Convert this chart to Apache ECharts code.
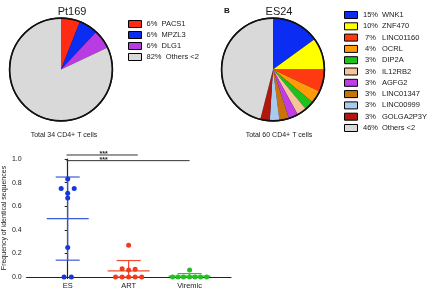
<!DOCTYPE html>
<html style="height: 100%">
  <head>
    <meta charset="UTF-8" />
    <title>Clonal expansion</title>
    <script src="https://cdn.jsdelivr.net/npm/echarts@6/dist/echarts.min.js"></script>
  </head>
  <body style="height: 100%; margin: 0; background: #fff">
    <div id="main" style="width: 428px; height: 295px"></div>
    <script>
      // pie A: Pt169
      var pie1Names = ['PACS1', 'MPZL3', 'DLG1', 'Others <2'];
      var pie1Pct = [6, 6, 6, 82];
      var pie1Colors = ['#ff2b12', '#0b2cf2', '#b83ce2', '#d9d9d9'];

      // pie B: ES24
      var pie2Names = ['WNK1', 'ZNF470', 'LINC01160', 'OCRL', 'DIP2A', 'IL12RB2',
        'AGFG2', 'LINC01347', 'LINC00999', 'GOLGA2P3Y', 'Others <2'];
      var pie2Pct = [15, 10, 7, 4, 3, 3, 3, 3, 3, 3, 46];
      var pie2Colors = ['#0b2cf2', '#ffff00', '#ff3a12', '#ff9a0a', '#1fc21a', '#f6c39a',
        '#c03ee6', '#cc720c', '#a9cbf0', '#b0180e', '#d9d9d9'];

      // scatter: frequency of identical sequences
      var groups = ['ES', 'ART', 'Viremic'];
      var esVals = [0.83, 0.75, 0.75, 0.71, 0.67, 0.25, 0, 0];
      var esJitter = [0, -0.107, 0.107, 0, 0, 0, -0.06, 0.06];
      var artVals = [0.27, 0.07, 0.06, 0.065, 0, 0, 0, 0, 0];
      var artJitter = [0, -0.107, 0, 0.107, -0.215, -0.107, 0, 0.107, 0.215];
      var virVals = [0.06, 0, 0, 0, 0, 0, 0, 0];
      var virJitter = [0, -0.28, -0.19, -0.1, 0, 0.09, 0.18, 0.28];
      var groupColors = ['#1838dc', '#f23a1c', '#22c020'];
      var barColors = ['#3a5ad6', '#f04a2a', '#30c030'];

      // significance bars: [fromX, toX, y, label]
      var sigBars = [
        [-0.02, 1.15, 1.034, '***'],
        [-0.02, 2.0, 0.986, '***']
      ];

      var font = 'Liberation Sans, Arial, sans-serif';
      var txt = '#1a1a1a';
      var pieR = 51;
      var pieA = [61, 69.5];
      var pieB = [273, 69.5];

      function pts(vals, jit, g) {
        return vals.map(function (v, i) { return [g + jit[i], v]; });
      }
      function stats(vals, g) {
        var n = vals.length;
        var m = vals.reduce(function (a, b) { return a + b; }, 0) / n;
        var ss = vals.reduce(function (a, b) { return a + (b - m) * (b - m); }, 0);
        var sd = Math.sqrt(ss / (n - 1));
        return [g, m, Math.max(0, m - sd), m + sd];
      }
      var errData = [stats(esVals, 0), stats(artVals, 1), stats(virVals, 2)];

      function pieData(names, pct, colors) {
        return names.map(function (n, i) {
          return { name: n, value: pct[i], itemStyle: { color: colors[i] } };
        });
      }
      // black outline round a pie
      function ring(c) {
        return {
          type: 'circle', z: 100, silent: true,
          shape: { cx: c[0], cy: c[1], r: pieR + 0.3 },
          style: { fill: 'none', stroke: '#111', lineWidth: 1.6 }
        };
      }
      // dark disc just larger than the pie, sitting underneath it
      function backDisc(c) {
        return {
          type: 'pie', center: c, radius: pieR + 1.2, z: 1, silent: true,
          label: { show: false }, labelLine: { show: false },
          data: [{ value: 1, itemStyle: { color: '#111' } }]
        };
      }

      var chart = echarts.init(document.getElementById('main'));

      var option = {
        animation: false,
        backgroundColor: '#fff',
        textStyle: { fontFamily: font },
        graphic: [ring(pieA), ring(pieB)],
        title: [
          { text: 'Pt169', left: 67, top: 1, textAlign: 'center',
            textStyle: { fontSize: 11, fontWeight: 'normal', color: txt, fontFamily: font } },
          { text: 'ES24', left: 274, top: 1, textAlign: 'center',
            textStyle: { fontSize: 11, fontWeight: 'normal', color: txt, fontFamily: font } },
          { text: 'B', left: 219, top: 2,
            textStyle: { fontSize: 8, fontWeight: 'bold', color: '#111', fontFamily: font } },
          { text: 'Total 34 CD4+ T cells', left: 59, top: 127, textAlign: 'center',
            textStyle: { fontSize: 7, fontWeight: 'normal', color: txt, fontFamily: font } },
          { text: 'Total 60 CD4+ T cells', left: 274, top: 127, textAlign: 'center',
            textStyle: { fontSize: 7, fontWeight: 'normal', color: txt, fontFamily: font } }
        ],
        legend: [
          {
            data: pie1Names, orient: 'vertical', left: 123, top: 15,
            icon: 'rect', itemWidth: 13, itemHeight: 7, itemGap: 3,
            selectedMode: false,
            itemStyle: { borderColor: '#000', borderWidth: 1 },
            textStyle: { fontSize: 7.5, color: txt, fontFamily: font, lineHeight: 7 },
            formatter: function (name) {
              return pie1Pct[pie1Names.indexOf(name)] + '%  ' + name;
            }
          },
          {
            data: pie2Names, orient: 'vertical', left: 339, top: 6,
            icon: 'rect', itemWidth: 13, itemHeight: 7, itemGap: 3.3,
            selectedMode: false,
            itemStyle: { borderColor: '#000', borderWidth: 1 },
            textStyle: {
              fontSize: 7.5, color: txt, fontFamily: font, lineHeight: 7,
              rich: {
                p: { width: 16, align: 'right', fontSize: 7.5, fontFamily: font, color: txt },
                n: { padding: [0, 0, 0, 3.5], fontSize: 7.5, fontFamily: font, color: txt }
              }
            },
            formatter: function (name) {
              return '{p|' + pie2Pct[pie2Names.indexOf(name)] + '%}{n|' + name + '}';
            }
          }
        ],
        grid: { left: 22, right: 197, top: 159, bottom: 18 },
        xAxis: {
          type: 'value', min: -0.674, max: 2.68,
          splitLine: { show: false },
          axisLine: { lineStyle: { color: '#222', width: 1.2 } },
          axisTick: { customValues: [0, 1, 2], length: 2, lineStyle: { color: '#222' } },
          axisLabel: {
            customValues: [0, 1, 2], margin: 5, fontSize: 7.5, color: txt, fontFamily: font,
            formatter: function (v) { return groups[Math.round(v)]; }
          }
        },
        yAxis: {
          type: 'value', min: 0, max: 1, interval: 0.2,
          name: 'Frequency of identical sequences', nameLocation: 'middle', nameGap: 15,
          nameTextStyle: { fontSize: 7, color: txt, fontFamily: font },
          splitLine: { show: false },
          axisLine: { show: true, lineStyle: { color: '#222', width: 1.2 } },
          axisTick: { show: true, length: 3, lineStyle: { color: '#222' } },
          axisLabel: {
            margin: 5, fontSize: 7, color: txt, fontFamily: font,
            formatter: function (v) { return v.toFixed(1); }
          }
        },
        series: [
          backDisc(pieA),
          backDisc(pieB),
          {
            type: 'pie', name: 'Pt169', center: pieA, radius: pieR, startAngle: 90,
            label: { show: false }, labelLine: { show: false }, silent: true,
            data: pieData(pie1Names, pie1Pct, pie1Colors)
          },
          {
            type: 'pie', name: 'ES24', center: pieB, radius: pieR, startAngle: 90,
            label: { show: false }, labelLine: { show: false }, silent: true,
            data: pieData(pie2Names, pie2Pct, pie2Colors)
          },
          {
            type: 'custom', silent: true, z: 2,
            data: errData,
            renderItem: function (params, api) {
              var g = api.value(0);
              var mid = api.coord([g, api.value(1)]);
              var lo = api.coord([g, api.value(2)]);
              var hi = api.coord([g, api.value(3)]);
              var c = barColors[g];
              var st = { stroke: c, lineWidth: 1.2 };
              return {
                type: 'group',
                children: [
                  { type: 'line', shape: { x1: mid[0], y1: lo[1], x2: mid[0], y2: hi[1] }, style: st },
                  { type: 'line', shape: { x1: mid[0] - 21, y1: mid[1], x2: mid[0] + 21, y2: mid[1] }, style: st },
                  { type: 'line', shape: { x1: mid[0] - 12, y1: hi[1], x2: mid[0] + 12, y2: hi[1] }, style: st },
                  { type: 'line', shape: { x1: mid[0] - 12, y1: lo[1], x2: mid[0] + 12, y2: lo[1] }, style: st }
                ]
              };
            }
          },
          {
            type: 'scatter', symbolSize: 5, z: 4, silent: true,
            itemStyle: { color: groupColors[0], opacity: 1 },
            data: pts(esVals, esJitter, 0)
          },
          {
            type: 'scatter', symbolSize: 5, z: 4, silent: true,
            itemStyle: { color: groupColors[1], opacity: 1 },
            data: pts(artVals, artJitter, 1)
          },
          {
            type: 'scatter', symbolSize: 5, z: 4, silent: true,
            itemStyle: { color: groupColors[2], opacity: 1 },
            data: pts(virVals, virJitter, 2)
          },
          {
            type: 'custom', silent: true, clip: false, z: 5,
            data: sigBars,
            renderItem: function (params, api) {
              var a = api.coord([api.value(0), api.value(2)]);
              var b = api.coord([api.value(1), api.value(2)]);
              var s = api.coord([0.59, api.value(2)]);
              return {
                type: 'group',
                children: [
                  { type: 'line', shape: { x1: a[0], y1: a[1], x2: b[0], y2: b[1] },
                    style: { stroke: '#333', lineWidth: 1 } },
                  { type: 'text', x: s[0], y: s[1] + 2.5,
                    style: { text: sigBars[params.dataIndex][3], fill: '#222',
                      font: 'bold 7px ' + font, align: 'center', verticalAlign: 'bottom' } }
                ]
              };
            }
          }
        ]
      };

      chart.setOption(option);
    </script>
  </body>
</html>
